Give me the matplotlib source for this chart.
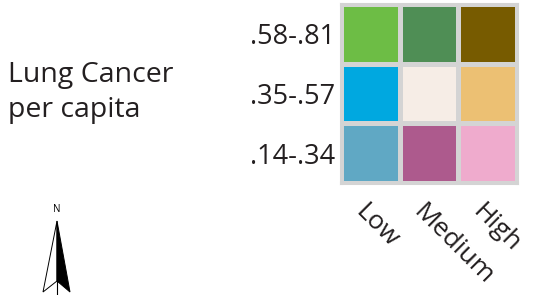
import numpy as np
import matplotlib.pyplot as plt
from matplotlib.colors import ListedColormap
from matplotlib.patches import Polygon
from matplotlib.lines import Line2D

plt.rcParams['font.family'] = ['Open Sans', 'DejaVu Sans']

# bivariate legend: rows = lung cancer per capita (bottom to top), cols = low/medium/high
row_labels = ['.14-.34', '.35-.57', '.58-.81']
col_labels = ['Low', 'Medium', 'High']
cell_colors = [
    ['#60a8c4', '#ad5a8d', '#efabcd'],   # .14-.34
    ['#00a8e0', '#f6ede6', '#ecc073'],   # .35-.57
    ['#6dbd45', '#4f8e55', '#775b00'],   # .58-.81
]
title_lines = ['Lung Cancer', 'per capita']

flat = [c for row in cell_colors for c in row]
idx = np.arange(len(flat)).reshape(3, 3)

fig = plt.figure(figsize=(5.39, 2.95), dpi=100)
ax = fig.add_axes([341/539, 1 - 183/295, 176/539, 179/295])
ax.pcolormesh(idx, cmap=ListedColormap(flat), edgecolors='#d4d4d4', linewidth=2.2)
ax.set_xlim(0, 3)
ax.set_ylim(0, 3)
for s in ax.spines.values():
    s.set_edgecolor('#d4d4d4')
    s.set_linewidth(2.2)

ax.set_yticks(np.arange(3) + 0.5)
ax.set_yticklabels(row_labels, fontsize=19.5, color='#231f20')
ax.tick_params(axis='y', length=0, pad=4)
ax.set_xticks([])
for i, lab in enumerate(col_labels):
    ax.text(i + 0.45, -0.27, lab, rotation=-45, rotation_mode='anchor',
            ha='left', va='top', fontsize=19, color='#231f20')

fig.text(8/539, 1 - 82/295, title_lines[0], fontsize=20.5, va='baseline', color='#231f20')
fig.text(8/539, 1 - 117/295, title_lines[1], fontsize=20.5, va='baseline', color='#231f20')

# north arrow
def px(x, y):
    return (x / 539, 1 - y / 295)

fig.text(*px(57, 210), 'N', fontsize=7, ha='center', va='center')
left = Polygon([px(57, 221), px(43, 292), px(57, 281)], closed=True,
               facecolor='white', edgecolor='black', lw=0.7, transform=fig.transFigure)
right = Polygon([px(57, 221), px(70, 292), px(57, 281)], closed=True,
                facecolor='black', edgecolor='black', lw=0.7, transform=fig.transFigure)
fig.patches.extend([left, right])
fig.lines.append(Line2D([57/539, 57/539], [1 - 281/295, 1 - 295/295],
                        color='black', lw=0.8, transform=fig.transFigure))

fig.savefig('out.png', dpi=100)
